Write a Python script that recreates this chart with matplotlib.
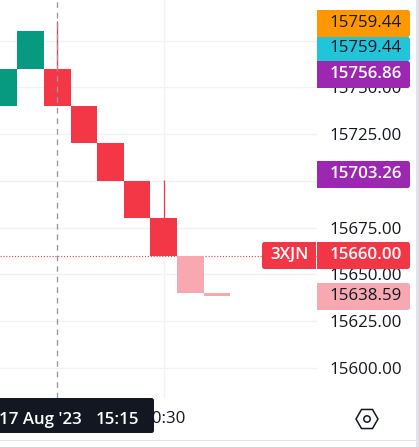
import matplotlib
matplotlib.use('Agg')
import matplotlib.pyplot as plt
from matplotlib.patches import FancyBboxPatch, Rectangle, RegularPolygon, Circle
from matplotlib.transforms import IdentityTransform

W, H = 419, 447
FONT = 'Open Sans'

# renko bars, index 0 is the one under the crosshair
bar_idx = [-2, -1, 0, 1, 2, 3, 4, 5, 6]
opens = [15740, 15760, 15760, 15740, 15720, 15700, 15680, 15660, 15640]
closes = [15760, 15780, 15740, 15720, 15700, 15680, 15660, 15640, 15638.59]
wick_idx = [0, 4]
wick_low = [15760, 15680]
wick_high = [15785.5, 15700.5]
last_price = 15660.00

y_ticks = [15600, 15625, 15650, 15675, 15700, 15725, 15750, 15775]
y_tick_labels = ['15600.00', '15625.00', '15650.00', '15675.00', '', '15725.00', '15750.00', '']  # 15700/15775 sit under the price tags
x_tick_idx = [4]
x_tick_labels = ['10:30']

# price tags on the right
label_values = ['15759.44', '15759.44', '15756.86', '15703.26', '15660.00', '15638.59']
label_colors = ['#ff9800', '#22c4da', '#9c27b0', '#9c27b0', '#f23645', '#f7a8b1']
label_text_colors = ['#131722', '#131722', 'white', 'white', 'white', '#131722']
label_tops = [10, 37, 61, 161, 242, 283]
label_bottoms = [37, 61, 88, 188, 269, 310]

GREEN = '#089981'
RED = '#f43747'
PALE = '#f7a8b1'
GRID = '#f1f2f4'

plt.rcParams['font.family'] = [FONT, 'DejaVu Sans']

fig = plt.figure(figsize=(W / 100, H / 100), dpi=100, facecolor='white')
ax = fig.add_axes([0, (H - 398) / H, 317 / W, 398 / H])

step = 26.6
ax.set_xlim(-57.3 / step, (317 - 57.3) / step)
ax.set_ylim(15775 - (398 - 40.5) / 1.871, 15775 + 40.5 / 1.871)

colors = []
for i, o, c in zip(bar_idx, opens, closes):
    if i >= 5:
        colors.append(PALE)
    elif c > o:
        colors.append(GREEN)
    else:
        colors.append(RED)

heights = [c - o for o, c in zip(opens, closes)]
ax.bar(bar_idx, heights, bottom=opens, width=1.0, color=colors, linewidth=0, zorder=3)
ax.vlines(wick_idx, wick_low, wick_high, color=RED, linewidth=0.9, zorder=3)

ax.set_yticks(y_ticks)
ax.set_xticks(x_tick_idx)
ax.set_xticklabels(x_tick_labels)
ax.set_yticklabels(y_tick_labels)
ax.yaxis.tick_right()
ax.tick_params(axis='y', length=0, pad=9.2, labelsize=12.2, labelcolor='#131722')
ax.tick_params(axis='x', length=0, pad=9.5, labelsize=12.2, labelcolor='#131722')
ax.grid(True, color=GRID, linewidth=1, zorder=0)
for s in ax.spines.values():
    s.set_visible(False)

# crosshair + last price line
ax.axvline(0, color='#9598a1', linewidth=0.95, dashes=(4.3, 3.7), zorder=4)
ax.axhline(last_price, color=RED, linewidth=0.8, dashes=(1, 1.6), zorder=2)


def px_y(y):
    return H - y


def pill(x0, y0, x1, y1, color, square_left=True, square_right=False):
    r = 2.5
    box = FancyBboxPatch((x0 + r, px_y(y1) + r), x1 - x0 - 2 * r, y1 - y0 - 2 * r,
                         boxstyle='round,pad=%s,rounding_size=%s' % (r, r),
                         facecolor=color, edgecolor='none', transform=IdentityTransform(), zorder=5)
    fig.add_artist(box)
    if square_left:
        fig.add_artist(Rectangle((x0, px_y(y1)), 6, y1 - y0, facecolor=color, edgecolor='none',
                                 transform=IdentityTransform(), zorder=5))
    if square_right:
        fig.add_artist(Rectangle((x1 - 6, px_y(y1)), 6, y1 - y0, facecolor=color, edgecolor='none',
                                 transform=IdentityTransform(), zorder=5))


def label(x, y, s, color, **kw):
    fig.text(x / W, px_y(y) / H, s, color=color, fontsize=12.2, va='center', zorder=6, **kw)


for val, col, tcol, t, b in zip(label_values, label_colors, label_text_colors, label_tops, label_bottoms):
    pill(317, t, 410, b, col)
    weight = 'semibold' if tcol == 'white' else 'normal'
    label(329.5, (t + b) / 2 - 0.5, val, tcol, fontweight=weight)

# symbol tag left of the last price
pill(262, 242, 316, 269, '#f23645', square_left=False, square_right=True)
label(270, 255, '3XJN', 'white', fontweight='semibold')

# time label under the crosshair
pill(-10, 398, 154, 433, '#131722')
label(-0.5, 420, "17 Aug '23", 'white', fontweight='semibold')
label(96, 420, '15:15', 'white', fontweight='semibold')

# settings icon
fig.add_artist(RegularPolygon((367, px_y(419)), 6, radius=11, orientation=3.14159 / 2, facecolor='white',
                              edgecolor='#131722', linewidth=1.1, transform=IdentityTransform(), zorder=5))
fig.add_artist(Circle((367, px_y(419)), 3.2, facecolor='white', edgecolor='#131722', linewidth=1.1,
                      transform=IdentityTransform(), zorder=6))

# panel borders
fig.add_artist(Rectangle((416, 0), 3, H, facecolor='#e0e3eb', edgecolor='none', transform=IdentityTransform(), zorder=7))
fig.add_artist(Rectangle((0, px_y(441)), 416, 1.2, facecolor='#e0e3eb', edgecolor='none', transform=IdentityTransform(), zorder=7))

fig.savefig('out.png', dpi=100, facecolor='white')
